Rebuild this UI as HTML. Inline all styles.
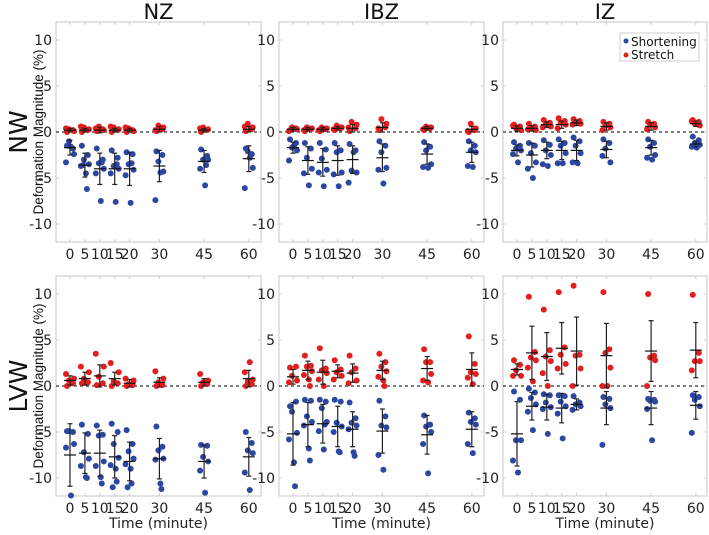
<!DOCTYPE html>
<html><head><meta charset="utf-8">
<style>
html,body{margin:0;padding:0;background:#fff;}
body{width:709px;height:530px;overflow:hidden;font-family:"Liberation Sans","DejaVu Sans",sans-serif;}
svg text{font-family:"DejaVu Sans","Liberation Sans",sans-serif;}
svg text.lib{font-family:"Liberation Sans","DejaVu Sans",sans-serif;}
</style></head>
<body>
<svg id="chart" width="709" height="530" viewBox="0 0 709 530" xmlns="http://www.w3.org/2000/svg"></svg>
<script>
const times=[0,5,10,15,20,30,45,60];
const yTicks=[-10,-5,0,5,10];
const colTitles=["NZ","IBZ","IZ"];
const rowTitles=["NW","LVW"];
// NW row
const nwNzShort=[[-1.5,-1.8,-1,-2.4,-3.3,-1.6],[-1.5,-2.5,-3,-3.5,-3.7,-4.5,-6.2,-3.6],[-1.8,-3,-3.4,-4,-4.5,-7.5,-3.3],[-2,-2.8,-3.7,-4,-4.5,-7.6,-3.5],[-2.2,-2.4,-3.5,-4.1,-4.7,-7.7,-3.4],[-2.1,-2.5,-3.2,-4.3,-7.4,-4.4],[-1.9,-2.6,-3,-3,-4,-5.8,-3.6],[-1.8,-2.4,-2.1,-3.9,-6.1,-2.8]];
const nwNzShortMean=[-1.7,-3.6,-4,-4,-4,-3.7,-3.2,-2.9];
const nwNzShortSd=[0.8,1.3,1.7,1.7,1.8,1.7,1.2,1.4];
const nwNzStretch=[[0,0.2,0.3,0.1,0.4],[0,0.2,0.5,0.3,0.6],[0.1,0.3,0.6,0.2,0.4],[0,0.2,0.5,0.3,0.6],[0,0.2,0.4,0.1,0.5],[0.1,0.3,0.7,0.5,0.2],[0,0.2,0.5,0.3,0.4],[0.1,0.3,0.9,0.5,0.6]];
const nwNzStretchMean=[0.2,0.2,0.2,0.2,0.2,0.3,0.2,0.3];
const nwNzStretchSd=[0.2,0.2,0.3,0.2,0.2,0.3,0.2,0.3];
const nwIbzShort=[[-0.8,-1.2,-1.7,-2,-3.1,-1.5],[-1.2,-1.8,-2.8,-4,-4.5,-5.8],[-1.2,-1.9,-2.9,-4.1,-4.4,-5.9],[-1.2,-2,-2.2,-4.4,-4.6,-5.9],[-1.3,-2,-4.2,-4.4,-5.5,-2.2],[-1,-1.5,-2.2,-3.9,-4.1,-5.6],[-1.1,-1.6,-2,-3.5,-3.8,-3.9],[-1,-1.5,-2,-2.2,-3.7,-3.8]];
const nwIbzShortMean=[-1.7,-3.1,-3.3,-3.1,-3,-2.8,-2.4,-2.2];
const nwIbzShortSd=[0.6,1.5,1.5,1.6,1.5,1.5,1.1,1.1];
const nwIbzStretch=[[0.2,0.4,0.5,0.3,0.1],[0.1,0.3,0.5,0.4,0.2],[0.1,0.3,0.5,0.4,0.2],[0.2,0.4,0.7,0.5,0.3],[0.1,0.4,1.1,0.8,0.5],[0.2,0.5,1.4,0.9,0.4],[0.2,0.4,0.6,0.5,0.3],[0,0.2,0.9,0.4,0.1]];
const nwIbzStretchMean=[0.3,0.3,0.3,0.4,0.4,0.5,0.4,0.3];
const nwIbzStretchSd=[0.2,0.2,0.2,0.2,0.4,0.5,0.2,0.3];
const nwIzShort=[[-1.1,-1.5,-1.8,-2,-2.4,-3.3],[-1.2,-1.5,-2.3,-3.3,-4,-5],[-0.9,-1.4,-2,-2.5,-3.5,-3.7],[-0.8,-1.2,-1.5,-2.3,-3.4,-3.4],[-0.6,-1,-1.5,-2.3,-3.3,-3.4],[-0.8,-1.2,-1.8,-3.3,-2.6],[-0.8,-1.2,-1.6,-2.5,-2.8,-3],[-0.5,-0.9,-1.2,-1.4,-1.6,-1.7]];
const nwIzShortMean=[-2,-2.5,-2,-2,-2,-1.9,-1.7,-1.3];
const nwIzShortSd=[0.6,1.3,0.9,1,1.1,0.9,0.8,0.3];
const nwIzStretch=[[0.8,0.6,0.4,0.2,0.7],[0.9,0.6,0.4,0.2,0.3],[1.3,1,0.8,0.6,0.5],[1.5,1.2,1,0.8,0.4],[1.4,1.2,1,0.9,0.8],[1.1,0.9,0.7,0.5,0.2],[1.1,0.9,0.8,0.5,0.3],[1.3,1.1,0.9,0.7,1.2]];
const nwIzStretchMean=[0.4,0.4,0.8,0.8,1,0.6,0.6,0.9];
const nwIzStretchSd=[0.3,0.3,0.3,0.4,0.3,0.4,0.4,0.3];
// LVW row
const lvNzShort=[[-4.9,-5,-4.9,-6.3,-6.7,-11.9],[-4.2,-5.2,-7.2,-7.9,-8.7,-9.9,-10],[-4.3,-5.3,-5.4,-8.2,-8.7,-9.9,-10.6],[-4.1,-5,-6.3,-7.8,-8.6,-9,-10.4,-11],[-4.8,-6.3,-7.1,-7.9,-8.5,-9,-10.6,-11],[-4.4,-6.6,-7,-7.9,-8,-10.6,-11.2],[-6.4,-6.5,-7.7,-8.2,-9.2,-11.6],[-5,-6.2,-7,-7.3,-9.4,-11.3]];
const lvNzShortMean=[-7.5,-7.3,-7.3,-7.7,-8.2,-7.9,-8.2,-7.7];
const lvNzShortSd=[3.4,2.2,2.5,2.3,2.1,2.2,1.8,2.1];
const lvNzStretch=[[0,0.3,0.6,0.8,1.3],[0.3,0.4,0.8,1.5,2.1],[0.1,0.3,1,2.1,3.5],[0,0.3,0.5,1.5,2.5],[0,0.1,0.2,0.6,0.8],[0,0.1,0.4,0.8,1.6],[0,0.2,0.4,0.6,1.3],[0,0.2,0.5,0.7,1.5,2.6]];
const lvNzStretchMean=[0.6,0.8,1.1,0.8,0.3,0.4,0.4,0.8];
const lvNzStretchSd=[0.5,0.7,1.2,0.7,0.4,0.5,0.4,0.9];
const lvIbzShort=[[-2.2,-1.7,-2.8,-5.1,-5.8,-8.3,-10.9],[-1.5,-1.6,-3.3,-3.9,-4.3,-6.8,-8.1],[-1.5,-1.7,-2.4,-3.9,-4.9,-6.9,-4.2],[-1.5,-1.7,-4,-4.4,-5,-7.1,-7.2],[-1.8,-3.5,-4,-4.3,-4.7,-7.2,-7.6],[-1.6,-3.3,-4.3,-4.5,-7.5,-9.1],[-3.2,-4.2,-4.4,-5,-6.3,-9.5],[-2.9,-3.5,-3.9,-4.2,-6.3,-7.3]];
const lvIbzShortMean=[-5.2,-4.2,-4.1,-4.4,-4.7,-4.9,-5.3,-4.7];
const lvIbzShortSd=[3.4,2.4,2.1,2.2,1.9,2.4,2.1,1.9];
const lvIbzStretch=[[2,2.1,1.1,0.6,0.4],[3.3,2.2,2.1,1.6,1.2,0.7,0],[4.1,1.9,1.7,1.4,0.7,0],[2.8,1.8,1.5,1.1,0.7],[3.3,1.9,1.5,0.6,0.3],[3.5,2.6,2.1,1.6,1,0.6,0],[4,2.6,2.6,1.3,0.6,0.4],[5.4,2.4,1.5,1.3,0.9,0.2]];
const lvIbzStretchMean=[1,1.7,1.5,1.6,1.4,1.7,1.9,1.8];
const lvIbzStretchSd=[0.8,1,1.3,0.7,1,1,1.3,1.8];
const lvIzShort=[[-0.6,-1.5,-5.9,-5.9,-8.1,-9.4],[-0.3,-0.7,-1.3,-2,-2.8,-4.8],[-0.9,-1,-1.8,-2.3,-2.5,-5.2],[-1,-1.1,-1.7,-2.2,-3,-5.7],[-1.1,-1.8,-2,-2.2,-2.6],[-1.2,-1.4,-2,-2.4,-6.4],[-1.4,-1.5,-1.6,-1.7,-2.5,-5.9],[-1,-1.2,-1.5,-2.2,-5.1]];
const lvIzShortMean=[-5.2,-2.2,-2.3,-2.4,-2,-2.4,-2.4,-2.1];
const lvIzShortSd=[3.5,1.5,1.4,1.6,0.6,1.8,1.8,1.5];
const lvIzStretch=[[2.8,2.3,1.7,1.1,1.1],[9.7,3.7,3.1,2.8,2,0.5],[8.3,3.9,3.2,2.7,1.4,0],[10.2,4.2,3.4,2.4,1.9],[10.9,3.4,3.3,1.9,0],[10.2,4,3.6,2,0,0],[10,3.3,3.1,2.8,0],[9.9,3.6,2.7,2.7,1.7]];
const lvIzStretchMean=[1.8,3.6,3.2,4.1,3.8,3.3,3.8,3.9];
const lvIzStretchSd=[0.6,2.9,2.6,2.8,3.7,3.5,3.3,3];

const panels=[
 {row:0,col:0,s:nwNzShort,sm:nwNzShortMean,ss:nwNzShortSd,r:nwNzStretch,rm:nwNzStretchMean,rs:nwNzStretchSd},
 {row:0,col:1,s:nwIbzShort,sm:nwIbzShortMean,ss:nwIbzShortSd,r:nwIbzStretch,rm:nwIbzStretchMean,rs:nwIbzStretchSd},
 {row:0,col:2,s:nwIzShort,sm:nwIzShortMean,ss:nwIzShortSd,r:nwIzStretch,rm:nwIzStretchMean,rs:nwIzStretchSd},
 {row:1,col:0,s:lvNzShort,sm:lvNzShortMean,ss:lvNzShortSd,r:lvNzStretch,rm:lvNzStretchMean,rs:lvNzStretchSd},
 {row:1,col:1,s:lvIbzShort,sm:lvIbzShortMean,ss:lvIbzShortSd,r:lvIbzStretch,rm:lvIbzStretchMean,rs:lvIbzStretchSd},
 {row:1,col:2,s:lvIzShort,sm:lvIzShortMean,ss:lvIzShortSd,r:lvIzStretch,rm:lvIzStretchMean,rs:lvIzStretchSd}
];
const colLeft=[56,279,503], colW=[205,205,204];
const rowTop=[22,276], rowH=220;
const jit=[-3,3,-1,4,-4,1,2,-2];
const NS='http://www.w3.org/2000/svg';
const svg=document.getElementById('chart');
function mk(tag,attrs,parent){const e=document.createElementNS(NS,tag);for(const k in attrs)e.setAttribute(k,attrs[k]);(parent||svg).appendChild(e);return e;}
function xs(c,t){return colLeft[c]+14+t*2.98;}
function ys(r,v){return rowTop[r]+110-v*9.2;}
const BLUE='#2c46a3', RED='#e41d1d';

panels.forEach(p=>{
  const g=mk('g',{});
  
  
  const L=colLeft[p.col],T=rowTop[p.row],W=colW[p.col];
  const fr=mk('rect',{x:L,y:T,width:W,height:rowH,fill:'#fff',stroke:'#d0d0d0','stroke-width':1.2},g);
  
  
  yTicks.forEach(v=>{
    const y=ys(p.row,v);
    mk('line',{x1:L,x2:L+3,y1:y,y2:y,stroke:'#ccc'},g);
    mk('line',{x1:L+W-3,x2:L+W,y1:y,y2:y,stroke:'#ccc'},g);
    const t=mk('text',{x:L-4,y:y+5,'text-anchor':'end','font-size':14,fill:'#222'},g);
    t.textContent=v;
    
    
  });
  times.forEach(tm=>{
    const x=xs(p.col,tm);
    mk('line',{x1:x,x2:x,y1:T,y2:T+3,stroke:'#ccc'},g);
    mk('line',{x1:x,x2:x,y1:T+rowH-3,y2:T+rowH,stroke:'#ccc'},g);
    const t=mk('text',{x:x,y:T+rowH+17,'text-anchor':'middle','font-size':14,fill:'#222'},g);
    t.textContent=tm;
    
    
  });
  const zl=mk('line',{x1:L,x2:L+W,y1:ys(p.row,0),y2:ys(p.row,0),stroke:'#000','stroke-dasharray':'3,3','stroke-width':1},g);
  
  
  [[p.r,p.rm,p.rs,RED,'stretch'],[p.s,p.sm,p.ss,BLUE,'shortening']].forEach(([pts,m,sd,col,nm])=>{
    times.forEach((tm,i)=>{
      const cx=xs(p.col,tm);
      pts[i].forEach((v,j)=>{
        const c=mk('circle',{cx:cx+jit[j%jit.length],cy:ys(p.row,v),r:3,fill:col},g);
        
        
      });
      const y1=ys(p.row,m[i]+sd[i]),y2=ys(p.row,m[i]-sd[i]),ym=ys(p.row,m[i]);
      const eb=mk('line',{x1:cx,x2:cx,y1:y1,y2:y2,stroke:'#222','stroke-width':1.2},g);
      
      
      mk('line',{x1:cx-2.5,x2:cx+2.5,y1:y1,y2:y1,stroke:'#222','stroke-width':1.2},g);
      mk('line',{x1:cx-2.5,x2:cx+2.5,y1:y2,y2:y2,stroke:'#222','stroke-width':1.2},g);
      const ml=mk('line',{x1:cx-6,x2:cx+6,y1:ym,y2:ym,stroke:'#111','stroke-width':1.2},g);
      
      
    });
  });
});
colTitles.forEach((t,c)=>{
  const e=mk('text',{x:colLeft[c]+colW[c]/2,y:19,'text-anchor':'middle','font-size':21,fill:'#111'});
  e.textContent=t;
  
  
});
rowTitles.forEach((t,r)=>{
  const cy=rowTop[r]+110;
  const e=mk('text',{x:0,y:0,'text-anchor':'middle','font-size':25,fill:'#111',transform:`translate(27,${cy}) rotate(-90)`});
  e.textContent=t;
  
  
  const a=mk('text',{x:0,y:0,'text-anchor':'middle','font-size':13.5,fill:'#111',class:'lib',transform:`translate(43,${cy}) rotate(-90)`});
  a.textContent='Deformation Magnitude (%)';
  
  
});
colLeft.forEach((L,c)=>{
  const e=mk('text',{x:L+colW[c]/2,y:528,'text-anchor':'middle','font-size':14,fill:'#222'});
  e.textContent='Time (minute)';
  
  
});
const lg=mk('g',{});


mk('rect',{x:620,y:33,width:79,height:28,fill:'#fff',stroke:'#ccc'},lg);
mk('circle',{cx:626,cy:41,r:2.5,fill:BLUE},lg);
mk('circle',{cx:626,cy:55,r:2.5,fill:RED},lg);
const l1=mk('text',{x:631,y:46,'font-size':12,fill:'#111'},lg);l1.textContent='Shortening';


const l2=mk('text',{x:631,y:59,'font-size':12,fill:'#111'},lg);l2.textContent='Stretch';


</script>
</body></html>
